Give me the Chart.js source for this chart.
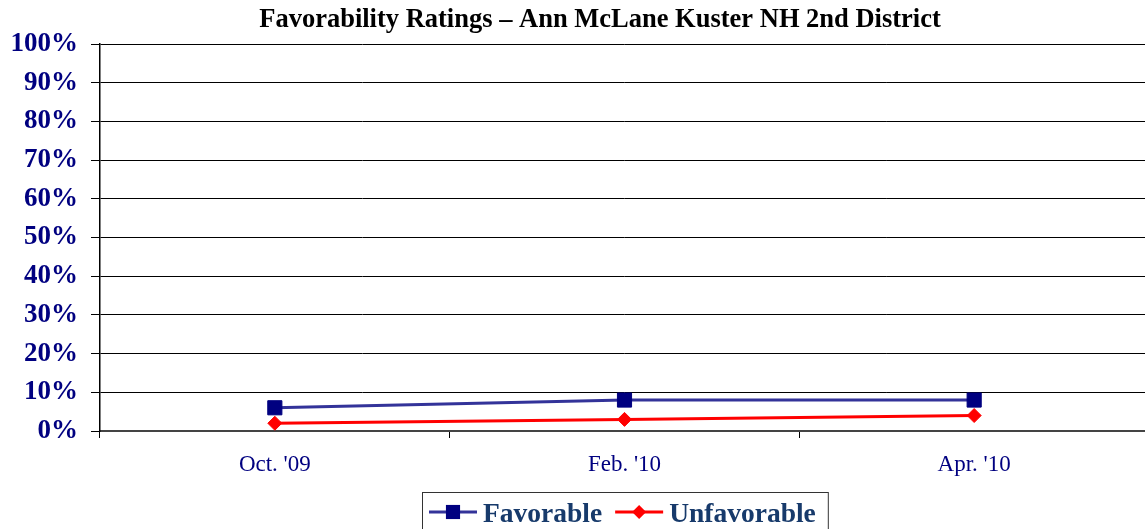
<!DOCTYPE html>
<html><head><meta charset="utf-8">
<script src="https://cdn.jsdelivr.net/npm/chart.js@4"></script>
<style>html,body{margin:0;padding:0;overflow:hidden;background:#fff}canvas{display:block}</style>
</head><body>
<canvas id="c" width="1160" height="529"></canvas>
<script>
const chartTitle = "Favorability Ratings \u2013 Ann McLane Kuster NH 2nd District";
const categories = ["Oct. '09", "Feb. '10", "Apr. '10"];
const seriesNames = ["Favorable", "Unfavorable"];
const favorable = [6, 8, 8];
const unfavorable = [2, 3, 4];
const yTickLabels = ["0%","10%","20%","30%","40%","50%","60%","70%","80%","90%","100%"];

const SERIF = '"Liberation Serif", "Times New Roman", serif';

const titlePlugin = {
  id: 'customTitle',
  afterDraw(chart) {
    const ctx = chart.ctx;
    ctx.save();
    ctx.font = 'bold 26.5px ' + SERIF;
    ctx.fillStyle = '#000';
    ctx.textAlign = 'center';
    ctx.textBaseline = 'alphabetic';
    ctx.fillText(chartTitle, 600, 27);
    ctx.restore();
  }
};

function drawMarker(ctx, style, x, y, r, color) {
  ctx.fillStyle = color;
  ctx.beginPath();
  if (style === 'rect') {
    const s = r * Math.SQRT1_2;
    ctx.rect(x - s, y - s, 2 * s, 2 * s);
  } else {
    ctx.moveTo(x, y - r); ctx.lineTo(x + r, y); ctx.lineTo(x, y + r); ctx.lineTo(x - r, y); ctx.closePath();
  }
  ctx.fill();
}

const legendPlugin = {
  id: 'customLegend',
  afterDraw(chart) {
    const ctx = chart.ctx;
    ctx.save();
    ctx.font = 'bold 27.5px ' + SERIF;
    const boxLeft = 422, boxTop = 492;
    let x = 429;
    const ly = 512;
    chart.data.datasets.forEach((ds) => {
      ctx.strokeStyle = ds.borderColor;
      ctx.lineWidth = 3;
      ctx.beginPath(); ctx.moveTo(x, ly); ctx.lineTo(x + 48, ly); ctx.stroke();
      drawMarker(ctx, ds.pointStyle, x + 24, ly, ds.pointStyle === 'rect' ? 10 : 7, ds.pointBackgroundColor);
      x += 54;
      ctx.fillStyle = '#173a6b';
      ctx.textBaseline = 'alphabetic';
      ctx.textAlign = 'left';
      ctx.fillText(ds.label, x, 522);
      x += ctx.measureText(ds.label).width + 13;
    });
    ctx.strokeStyle = '#333';
    ctx.lineWidth = 1;
    ctx.strokeRect(boxLeft + 0.5, boxTop + 0.5, (x - 1) - boxLeft, 60);
    ctx.restore();
  }
};

new Chart(document.getElementById('c'), {
  type: 'line',
  data: {
    labels: categories,
    datasets: [
      {
        label: seriesNames[0], data: favorable,
        borderColor: '#333399', borderWidth: 3,
        pointStyle: 'rect', pointRadius: 10,
        pointBackgroundColor: '#000080', pointBorderColor: '#000080', pointBorderWidth: 1,
        tension: 0
      },
      {
        label: seriesNames[1], data: unfavorable,
        borderColor: '#ff0000', borderWidth: 3,
        pointStyle: 'rectRot', pointRadius: 7,
        pointBackgroundColor: '#ff0000', pointBorderColor: '#ff0000', pointBorderWidth: 1,
        tension: 0
      }
    ]
  },
  options: {
    responsive: false,
    animation: false,
    layout: { padding: { top: 44, left: 0, right: 1, bottom: 0 } },
    plugins: { legend: { display: false }, title: { display: false }, tooltip: { enabled: false } },
    scales: {
      x: {
        type: 'category',
        offset: true,
        grid: { offset: true, drawOnChartArea: false, drawTicks: true, tickLength: 7, color: '#000', lineWidth: 1 },
        border: { display: true, color: '#444', width: 2 },
        ticks: { font: { family: SERIF, size: 23 }, color: '#000080', padding: 13 },
        afterFit(s) { s.height = 98; s.paddingLeft = 0; s.paddingRight = 0; }
      },
      y: {
        min: 0, max: 100,
        ticks: {
          stepSize: 10,
          callback: (v, i) => yTickLabels[i],
          font: { family: SERIF, size: 27, weight: 'bold' },
          color: '#000080', padding: 13
        },
        grid: { color: '#000', lineWidth: 1, tickLength: 9, drawTicks: true },
        border: { color: '#000', width: 1.5 },
        afterFit(s) { s.width = 100; s.paddingTop = 0; s.paddingBottom = 0; }
      }
    }
  },
  plugins: [titlePlugin, legendPlugin]
});
</script>
</body></html>
